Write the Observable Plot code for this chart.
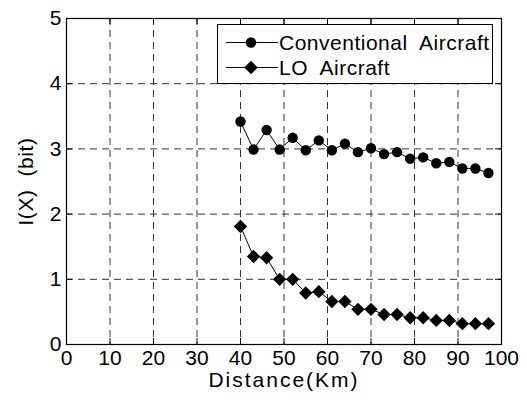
<!DOCTYPE html>
<html><head><meta charset="utf-8">
<script src="https://cdn.jsdelivr.net/npm/d3@7"></script>
<script src="https://cdn.jsdelivr.net/npm/@observablehq/plot@0.6"></script>
<style>
body{margin:0;background:#fff;}
#wrap{position:relative;width:527px;height:402px;font-family:"Liberation Sans",Arial,sans-serif;}
#legend{position:absolute;left:217px;top:24px;width:274px;height:58px;border:1.4px solid #000;background:#fff;}
.lrow{position:absolute;left:0;height:25px;width:274px;}
.lrow svg{position:absolute;left:0;top:0;}
.lrow span{position:absolute;left:61px;top:0;line-height:25px;font-size:21px;white-space:pre;letter-spacing:0.5px;color:#000;}
</style></head><body><div id="wrap"></div>
<script>
const distance = [40,43,46,49,52,55,58,61,64,67,70,73,76,79,82,85,88,91,94,97];
const conventional = [3.42,2.99,3.29,2.99,3.17,2.98,3.13,2.98,3.08,2.95,3.01,2.92,2.95,2.85,2.87,2.78,2.80,2.70,2.70,2.63];
const lo = [1.81,1.35,1.33,1.00,1.00,0.79,0.81,0.66,0.66,0.54,0.54,0.46,0.46,0.41,0.41,0.37,0.37,0.32,0.32,0.32];
const seriesNames = ["Conventional  Aircraft","LO  Aircraft"];
const seriesSymbols = ["circle","diamond2"];
const xTicks = [0,10,20,30,40,50,60,70,80,90,100];
const yTicks = [0,1,2,3,4,5];

const convData = distance.map((d,i)=>({x:d,y:conventional[i]}));
const loData = distance.map((d,i)=>({x:d,y:lo[i]}));

const W=527,H=402,ML=66,MR=26,MT=18,MB=58;
const PW=W-ML-MR, PH=H-MT-MB, TL=6;
const gridStyle={stroke:"#333",strokeOpacity:1,strokeWidth:1,strokeDasharray:"7,5"};

const chart = Plot.plot({
  width:W,height:H,marginLeft:ML,marginRight:MR,marginTop:MT,marginBottom:MB,
  style:{fontFamily:"'Liberation Sans', Arial, sans-serif",fontSize:"21px",color:"#000",background:"#fff"},
  x:{domain:[0,100]},
  y:{domain:[0,5]},
  marks:[
    Plot.gridX(xTicks.slice(1,-1),gridStyle),
    Plot.gridY(yTicks.slice(1,-1),gridStyle),
    Plot.tickX(xTicks,{x:d=>d,insetTop:PH-TL,stroke:"#000"}),
    Plot.tickX(xTicks,{x:d=>d,insetBottom:PH-TL,stroke:"#000"}),
    Plot.tickY(yTicks,{y:d=>d,insetRight:PW-TL,stroke:"#000"}),
    Plot.tickY(yTicks,{y:d=>d,insetLeft:PW-TL,stroke:"#000"}),
    Plot.axisX(xTicks,{tickSize:0,tickPadding:6,tickFormat:d=>String(d),label:"Distance(Km)",labelAnchor:"center",labelArrow:"none",labelOffset:42,fontSize:21}),
    Plot.axisY(yTicks,{tickSize:0,tickPadding:5,tickFormat:d=>String(d),label:"I(X)  (bit)",labelAnchor:"center",labelArrow:"none",labelOffset:48,fontSize:21}),
    Plot.line(convData,{x:"x",y:"y",stroke:"#000",strokeWidth:1}),
    Plot.dot(convData,{x:"x",y:"y",r:5.2,fill:"#000",symbol:seriesSymbols[0]}),
    Plot.line(loData,{x:"x",y:"y",stroke:"#000",strokeWidth:1}),
    Plot.dot(loData,{x:"x",y:"y",r:6,fill:"#000",symbol:seriesSymbols[1]}),
    Plot.frame({stroke:"#000",strokeWidth:1.2})
  ]
});
const wrap=document.getElementById("wrap");
wrap.appendChild(chart);
d3.select(chart).selectAll('[aria-label="x-axis label"] text')
  .style("letter-spacing","2px").style("white-space","pre");
d3.select(chart).selectAll('[aria-label="y-axis label"] text')
  .style("letter-spacing","0.6px").style("white-space","pre");

const legend=document.createElement("div");
legend.id="legend";
seriesNames.forEach((name,i)=>{
  const row=document.createElement("div");
  row.className="lrow";
  row.style.top=(5+i*25)+"px";
  const sym=d3.symbol(i===0?d3.symbolCircle:d3.symbolDiamond2, i===0?Math.PI*5.2*5.2:Math.PI*36)();
  row.innerHTML=`<svg width="62" height="25"><line x1="8" x2="60" y1="12.5" y2="12.5" stroke="#000" stroke-width="1"/><path d="${sym}" transform="translate(33,12.5)" fill="#000"/></svg><span></span>`;
  row.querySelector("span").textContent=name;
  legend.appendChild(row);
});
wrap.appendChild(legend);
</script>
</body></html>
